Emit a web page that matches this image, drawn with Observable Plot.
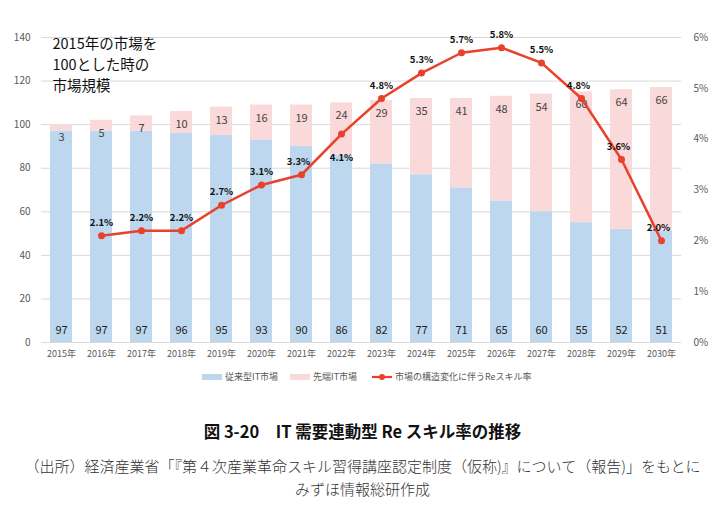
<!DOCTYPE html>
<html>
<head>
<meta charset="utf-8">
<script src="https://cdn.jsdelivr.net/npm/d3@7"></script>
<script src="https://cdn.jsdelivr.net/npm/@observablehq/plot@0.6"></script>
<style>
  body { margin: 0; background: #fff; font-family: "Noto Sans CJK JP", "Noto Sans", sans-serif; }
  #wrap { position: relative; width: 725px; height: 505px; overflow: hidden; }
  #chart { position: absolute; left: 0; top: 0; }
  .legend { position: absolute; top: 370px; left: 0; width: 725px; font-size: 9px; color: #595959; }
  .legend span.item { position: absolute; display: flex; align-items: center; white-space: nowrap; }
  .sw { display: inline-block; width: 20px; height: 6px; margin-right: 3px; }
  .title { position: absolute; top: 419px; left: 0; width: 725px; text-align: center; font-size: 16.5px; font-weight: bold; color: #111; }
  .cap { position: absolute; left: 0; width: 725px; text-align: center; font-size: 15px; color: #333; font-weight: 300; white-space: nowrap; }
</style>
</head>
<body>
<div id="wrap">
  <div id="chart"></div>
  <div class="legend">
    <span class="item" style="left:202px"><span class="sw" style="background:#BDD7EE"></span>従来型IT市場</span>
    <span class="item" style="left:290px"><span class="sw" style="background:#F9D9DA"></span>先端IT市場</span>
    <span class="item" style="left:372px"><svg width="20" height="8" style="margin-right:3px"><line x1="0" y1="4" x2="20" y2="4" stroke="#E8412C" stroke-width="2.2"/><circle cx="10" cy="4" r="3" fill="#E8412C"/></svg>市場の構造変化に伴うReスキル率</span>
  </div>
  <div class="title">図 3-20　IT 需要連動型 Re スキル率の推移</div>
  <div class="cap" style="top:455px">（出所）経済産業省「『第４次産業革命スキル習得講座認定制度（仮称)』について（報告)」をもとに</div>
  <div class="cap" style="top:478px">みずほ情報総研作成</div>
</div>
<script>
const years = ["2015年","2016年","2017年","2018年","2019年","2020年","2021年","2022年","2023年","2024年","2025年","2026年","2027年","2028年","2029年","2030年"];
const conventional = [97,97,97,96,95,93,90,86,82,77,71,65,60,55,52,51];
const advanced = [3,5,7,10,13,16,19,24,29,35,41,48,54,60,64,66];
const reskillRate = [null,2.1,2.2,2.2,2.7,3.1,3.3,4.1,4.8,5.3,5.7,5.8,5.5,4.8,3.6,2.0];
const leftTicks = [0,20,40,60,80,100,120,140];
const rightTicks = [0,1,2,3,4,5,6];
const note = "2015年の市場を\n100とした時の\n市場規模";

const YMAX = 140, RMAX = 6;
const toLeft = r => r * YMAX / RMAX;

const rows = years.map((y, i) => ({year: y, conv: conventional[i], adv: advanced[i], total: conventional[i] + advanced[i], rate: reskillRate[i]}));
const rateRows = rows.filter(d => d.rate != null);
const leftSet = ["2021年","2028年","2029年","2030年"];
const aboveLabels = rateRows.filter(d => !leftSet.includes(d.year) && d.year !== "2022年");
const leftLabels = rateRows.filter(d => leftSet.includes(d.year));
const belowLabels = rateRows.filter(d => d.year === "2022年");

const fontFam = "'Noto Sans CJK JP', 'Noto Sans', sans-serif";

const chart = Plot.plot({
  width: 725,
  height: 395,
  marginLeft: 41,
  marginRight: 44,
  marginTop: 37,
  marginBottom: 53,
  style: {fontFamily: fontFam, background: "transparent", overflow: "visible"},
  x: {domain: years, paddingInner: 0.45, paddingOuter: 0.225, label: null},
  y: {domain: [0, YMAX], label: null},
  marks: [
    Plot.ruleY(leftTicks, {stroke: "#D9D9D9", strokeWidth: 1}),
    Plot.rectY(rows, {x: "year", y1: 0, y2: "conv", fill: "#BDD7EE"}),
    Plot.rectY(rows, {x: "year", y1: "conv", y2: "total", fill: "#F9D9DA"}),
    Plot.text(rows, {x: "year", y: 0, text: d => String(d.conv), dy: -12, fontSize: 11, fill: "#222"}),
    Plot.text(rows, {x: "year", y: "total", text: d => String(d.adv), dy: 13, fontSize: 11, fill: "#444"}),
    Plot.line(rateRows, {x: "year", y: d => toLeft(d.rate), stroke: "#E8412C", strokeWidth: 2.5}),
    Plot.dot(rateRows, {x: "year", y: d => toLeft(d.rate), r: 3.5, fill: "#E8412C"}),
    Plot.text(aboveLabels, {x: "year", y: d => toLeft(d.rate), text: d => d.rate.toFixed(1) + "%", dy: -13, fontSize: 9.5, fontWeight: "bold", fill: "#111"}),
    Plot.text(leftLabels, {x: "year", y: d => toLeft(d.rate), text: d => d.rate.toFixed(1) + "%", dy: -13, dx: -3, fontSize: 9.5, fontWeight: "bold", fill: "#111"}),
    Plot.text(belowLabels, {x: "year", y: d => toLeft(d.rate), text: d => d.rate.toFixed(1) + "%", dy: 24, fontSize: 9.5, fontWeight: "bold", fill: "#111"}),
    Plot.axisX({tickSize: 0, tickPadding: 8, fontSize: 9, color: "#595959", label: null}),
    Plot.axisY(leftTicks, {anchor: "left", tickSize: 0, tickPadding: 11, fontSize: 10, color: "#595959", label: null}),
    Plot.axisY(rightTicks.map(toLeft), {anchor: "right", tickSize: 0, tickPadding: 12, fontSize: 10, color: "#595959", label: null, tickFormat: v => Math.round(v * RMAX / YMAX) + "%"}),
    Plot.text([note], {frameAnchor: "top-left", dx: 11, dy: -3, fontSize: 14.5, lineHeight: 1.45, fill: "#111", textAnchor: "start"})
  ]
});
document.getElementById("chart").appendChild(chart);
</script>
</body>
</html>
